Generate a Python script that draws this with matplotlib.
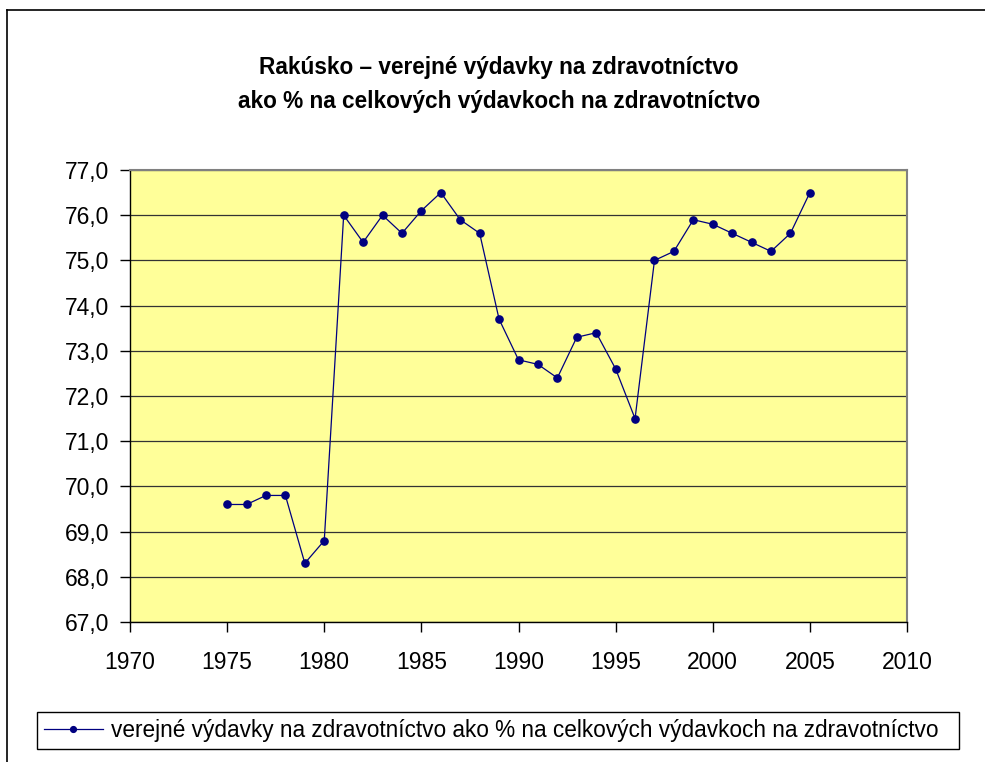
import matplotlib
matplotlib.use("Agg")
import matplotlib.pyplot as plt
from matplotlib.ticker import FuncFormatter, MultipleLocator
from matplotlib.lines import Line2D

years = list(range(1975, 2006))
values = [69.6, 69.6, 69.8, 69.8, 68.3, 68.8, 76.0, 75.4, 76.0, 75.6,
          76.1, 76.5, 75.9, 75.6, 73.7, 72.8, 72.7, 72.4, 73.3, 73.4,
          72.6, 71.5, 75.0, 75.2, 75.9, 75.8, 75.6, 75.4, 75.2, 75.6, 76.5]
title_lines = ["Rakúsko – verejné výdavky na zdravotníctvo",
               "ako % na celkových výdavkoch na zdravotníctvo"]
series_label = "verejné výdavky na zdravotníctvo ako % na celkových výdavkoch na zdravotníctvo"

W, H = 985, 762
fig = plt.figure(figsize=(W / 100, H / 100), dpi=100)
fig.patch.set_facecolor("white")

# figure border (left and top visible)
fig.add_artist(Line2D([7 / W, 7 / W], [0, 1 - 10 / H], transform=fig.transFigure, color="black", lw=1.2))
fig.add_artist(Line2D([7 / W, 1], [1 - 10 / H, 1 - 10 / H], transform=fig.transFigure, color="black", lw=1.2))

left, right, top, bottom = 130, 907, 170, 622
ax = fig.add_axes([left / W, 1 - bottom / H, (right - left) / W, (bottom - top) / H])
ax.set_facecolor("#FFFF99")

ax.plot(years, values, color="#000080", lw=0.9, marker="o", markersize=5.2,
        markerfacecolor="#000080", markeredgecolor="#000080", label=series_label, zorder=3)

ax.set_xlim(1970, 2010)
ax.set_ylim(67, 77)
ax.xaxis.set_major_locator(MultipleLocator(5))
ax.yaxis.set_major_locator(MultipleLocator(1))
ax.yaxis.set_major_formatter(FuncFormatter(lambda v, p: f"{v:.1f}".replace(".", ",")))
ax.grid(axis="y", color="#333333", lw=0.9, zorder=1)
ax.set_axisbelow(True)

for s in ["top", "right"]:
    ax.spines[s].set_color("#808080")
    ax.spines[s].set_linewidth(1.5)
for s in ["left", "bottom"]:
    ax.spines[s].set_color("black")
    ax.spines[s].set_linewidth(1.0)

ax.tick_params(axis="both", direction="out", length=7, width=1, color="black",
               labelsize=16.5)
ax.tick_params(axis="y", pad=8)
ax.tick_params(axis="x", pad=14)
for lab in ax.get_xticklabels() + ax.get_yticklabels():
    lab.set_fontfamily("Liberation Sans")

fig.text(499 / W, 1 - 74 / H, title_lines[0], ha="center", va="baseline",
         fontsize=16.3, fontweight="bold", family="Liberation Sans")
fig.text(499 / W, 1 - 108 / H, title_lines[1], ha="center", va="baseline",
         fontsize=16.3, fontweight="bold", family="Liberation Sans")

lx0, lx1, ly0, ly1 = 37, 959, 707, 749
leg = fig.legend(loc="lower left",
                 bbox_to_anchor=(lx0 / W, 1 - ly1 / H, (lx1 - lx0) / W, (ly1 - ly0) / H),
                 mode="expand", frameon=True, fancybox=False, edgecolor="black", framealpha=1,
                 prop={"family": "Liberation Sans", "size": 16.3},
                 handlelength=2.6, handletextpad=0.35, borderpad=0.3, borderaxespad=0,
                 markerscale=0.8)
leg.get_frame().set_linewidth(1.0)

fig.savefig("out.png", dpi=100, facecolor="white")
